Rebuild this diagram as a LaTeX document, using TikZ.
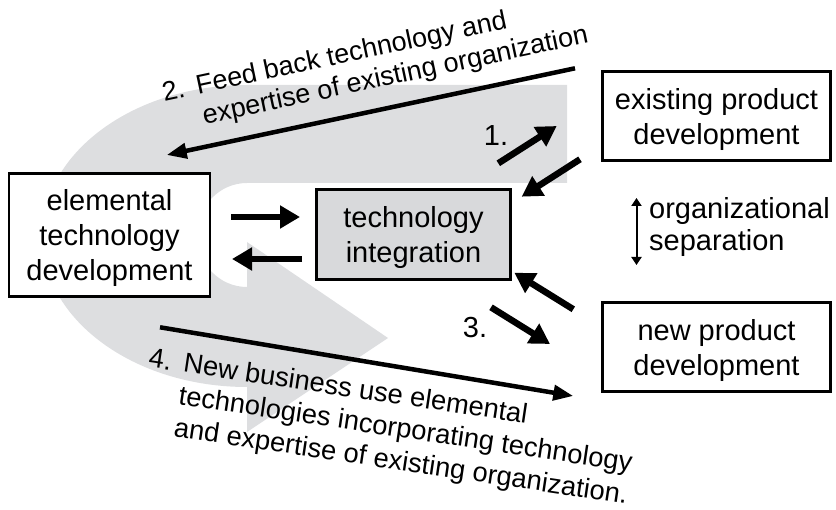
\documentclass[tikz,border=0pt]{standalone}
\usepackage{fontspec}
\setmainfont{Liberation Sans}
\usetikzlibrary{arrows.meta}

\definecolor{bandgray}{RGB}{221,222,224}
\definecolor{boxgray}{RGB}{216,217,219}

\begin{document}
\begin{tikzpicture}[x=1pt,y=-1pt,
  unitbox/.style={draw=black, line width=2.8pt, fill=white, align=center,
    inner sep=0pt, text depth=0pt, font=\fontsize{29}{35}\selectfont},
  fatarrow/.style={line width=6.5pt, -{Triangle[length=20pt,width=22pt]}},
  longarrow/.style={line width=4.5pt, -{Triangle[length=20pt,width=15pt]}},
  separrow/.style={line width=2pt,
    {Triangle[length=8pt,width=10pt]}-{Triangle[length=8pt,width=10pt]}},
  note/.style={font=\fontsize{27}{31}\selectfont, inner sep=0pt, align=left},
  num/.style={font=\fontsize{29}{34}\selectfont, inner sep=0pt}
]
\useasboundingbox (0,0) rectangle (836,510);

% large curved background arrow
\fill[bandgray]
  (567,85) -- (247,85)
  .. controls (133.8,85) and (42,152.6) .. (42,236)
  .. controls (42,319.4) and (133.8,387) .. (247,387)
  -- (247,432) -- (388,338) -- (247,242) -- (247,287)
  .. controls (219.4,287) and (197,263.7) .. (197,235)
  .. controls (197,206.3) and (219.4,183) .. (247,183)
  -- (567,183) -- cycle;

% units
\node[unitbox, minimum width=201pt, minimum height=123pt] (etd) at (109.5,235)
  {elemental\\technology\\development};
\node[unitbox, fill=boxgray, minimum width=194pt, minimum height=90pt] (ti) at (413.5,234.5)
  {technology\\integration};
\node[unitbox, minimum width=228pt, minimum height=89pt] (epd) at (716.5,116)
  {existing product\\development};
\node[unitbox, minimum width=228pt, minimum height=89pt] (npd) at (716.5,347)
  {new product\\development};

% flows between elemental development and integration
\coordinate (ea1) at (231,217);   \coordinate (ea2) at (300,217);
\coordinate (eb1) at (302,259);   \coordinate (eb2) at (232,259);
\draw[fatarrow] (ea1) -- (ea2);
\draw[fatarrow] (eb1) -- (eb2);

% flow 1: integration <-> existing product development
\coordinate (oa1) at (498.3,163.3); \coordinate (oa2) at (556.7,126);
\coordinate (ob1) at (580,159.3);   \coordinate (ob2) at (521.7,196.7);
\draw[fatarrow] (oa1) -- (oa2);
\draw[fatarrow] (ob1) -- (ob2);
\node[num] (n1) at (496,136) {1.};

% flow 3: integration <-> new product development
\coordinate (na1) at (573.3,309.3); \coordinate (na2) at (514.3,272.7);
\coordinate (nb1) at (491,307.3);   \coordinate (nb2) at (550,344);
\draw[fatarrow] (na1) -- (na2);
\draw[fatarrow] (nb1) -- (nb2);
\node[num] (n3) at (475,327.5) {3.};

% organizational separation
\coordinate (s1) at (636.5,198); \coordinate (s2) at (636.5,265);
\draw[separrow] (s1) -- (s2);
\node[font=\fontsize{29}{32}\selectfont, align=left, inner sep=0pt, anchor=north west]
  (org) at (649,197.5) {organizational\\separation};

% flow 2: feedback to elemental development
\coordinate (fa1) at (575,68.3); \coordinate (fa2) at (166.7,155);
\draw[longarrow] (fa1) -- (fa2);
\node[note, rotate=12, anchor=north west] (lab2) at (160,82)
  {2.\hspace{0.45em}Feed back technology and\\
   \hphantom{2.\hspace{0.45em}}expertise of existing organization};

% flow 4: new business
\coordinate (ga1) at (160,327.3); \coordinate (ga2) at (573.3,396);
\draw[longarrow] (ga1) -- (ga2);
\node[note, font=\fontsize{27.3}{32.5}\selectfont, rotate=-8.5, anchor=north west]
  (lab4) at (150.7,347)
  {4.\hspace{0.45em}New business use elemental\\
   \hphantom{4.\hspace{0.45em}}technologies incorporating technology\\
   \hphantom{4.\hspace{0.45em}}and expertise of existing organization.};
\end{tikzpicture}
\end{document}
